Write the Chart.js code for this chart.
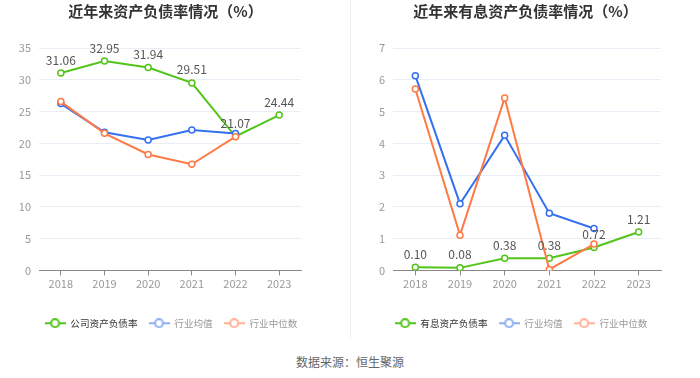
<!DOCTYPE html>
<html><head><meta charset="utf-8">
<script src="https://cdn.jsdelivr.net/npm/chart.js@4/dist/chart.umd.min.js"></script>
<style>
html,body{margin:0;padding:0;background:#fff;width:700px;height:378px;overflow:hidden;font-family:"Noto Sans CJK SC",sans-serif;position:relative;}
.box{position:absolute;top:0;width:350px;height:345px;}
#divider{position:absolute;left:350px;top:0;width:1px;height:338px;background:#f0f0f0;}
#src{position:absolute;left:0;width:700px;top:353px;text-align:center;font-size:12px;color:#666;}
</style></head><body>
<div class="box" style="left:0"><canvas id="c1" width="350" height="345"></canvas></div>
<div id="divider"></div>
<div class="box" style="left:350px"><canvas id="c2" width="350" height="345"></canvas></div>
<div id="src">数据来源：恒生聚源</div>
<script>
const years = ['2018','2019','2020','2021','2022','2023'];
const debtCompany = [31.06, 32.95, 31.94, 29.51, 21.07, 24.44];
const debtIndustryAvg = [26.25, 21.74, 20.52, 22.11, 21.53, null];
const debtIndustryMedian = [26.57, 21.58, 18.24, 16.70, 21.05, null];
const ibCompany = [0.10, 0.08, 0.38, 0.38, 0.72, 1.21];
const ibIndustryAvg = [6.13, 2.10, 4.25, 1.80, 1.32, null];
const ibIndustryMedian = [5.71, 1.11, 5.43, 0.03, 0.83, null];
const leftTitle = '近年来资产负债率情况（%）';
const rightTitle = '近年来有息资产负债率情况（%）';
const leftNames = ['公司资产负债率','行业均值','行业中位数'];
const rightNames = ['有息资产负债率','行业均值','行业中位数'];

const GREEN='#52c41a', BLUE='#3470ef', ORANGE='#ff7a45';
const LEG_COLORS=[GREEN,'#8eaef5','#ffb296'];
const LEG_TEXT=['#333','#999','#999'];
const FONT='"Noto Sans CJK SC", sans-serif';

function markerImg(color){
  const c=document.createElement('canvas');c.width=21;c.height=10;
  const x=c.getContext('2d');
  x.strokeStyle=color;x.lineWidth=2;
  x.beginPath();x.moveTo(0,5);x.lineTo(21,5);x.stroke();
  x.beginPath();x.arc(10.5,5,4,0,Math.PI*2);x.fillStyle='#fff';x.fill();x.stroke();
  return c;
}

const labelPlugin={
  id:'vlabels',
  afterDatasetsDraw(chart){
    const ctx=chart.ctx;const meta=chart.getDatasetMeta(0);
    const ds=chart.data.datasets[0];
    ctx.save();ctx.font='12px '+FONT;ctx.fillStyle='#555';ctx.textAlign='center';ctx.textBaseline='middle';
    meta.data.forEach((p,i)=>{ if(ds.data[i]==null)return; ctx.fillText(ds.data[i].toFixed(2),p.x,p.y-13);});
    ctx.restore();
  }
};
// re-centres the title and legend boxes horizontally
const centerPlugin={
  id:'recenter',
  afterLayout(chart,args,opts){
    const t=chart.titleBlock; if(t){t.left=opts.title-160;t.right=opts.title+160;}
    const l=chart.legend; if(l){const w=l.right-l.left; l.left=opts.legend-w/2; l.right=opts.legend+w/2;}
  }
};

function makeChart(id,title,names,d0,d1,d2,max,step,yWidth,padR,tc,lc){
  const mk=(label,data,color,order)=>({label,data,order,borderColor:color,backgroundColor:'#fff',borderWidth:2,
    pointRadius:3,pointHoverRadius:3,pointBorderWidth:1.5,pointBackgroundColor:'#fff',pointBorderColor:color,tension:0,spanGaps:false});
  return new Chart(document.getElementById(id),{
    type:'line',
    data:{labels:years,datasets:[mk(names[0],d0,GREEN,3),mk(names[1],d1,BLUE,2),mk(names[2],d2,ORANGE,1)]},
    options:{
      responsive:false,animation:false,devicePixelRatio:1,
      layout:{padding:{top:2,left:0,right:padR,bottom:7}},
      plugins:{
        tooltip:{enabled:false},
        recenter:{title:tc,legend:lc},
        title:{display:true,text:title,color:'#333',font:{family:FONT,size:15,weight:'bold'},padding:{top:0,bottom:28}},
        legend:{position:'bottom',
          labels:{usePointStyle:true,pointStyleWidth:21,boxHeight:10,padding:11,font:{family:FONT,size:9.6},
            generateLabels(chart){
              return chart.data.datasets.map((ds,i)=>({text:ds.label,pointStyle:markerImg(LEG_COLORS[i]),fontColor:LEG_TEXT[i],
                fillStyle:LEG_COLORS[i],strokeStyle:LEG_COLORS[i],lineWidth:0,hidden:false,datasetIndex:i}));
            }}}
      },
      scales:{
        x:{offset:true,grid:{drawOnChartArea:false,drawTicks:true,tickLength:5,color:'#888'},border:{color:'#888'},
          ticks:{color:'#999',font:{family:FONT,size:11},padding:2},
          afterFit(s){s.height=37;}},
        y:{min:0,max:max,ticks:{stepSize:step,color:'#999',font:{family:FONT,size:11},padding:8},
          grid:{color:'#e9edf5',drawTicks:false},border:{display:false},
          afterFit(s){s.width=yWidth;}}
      }
    },
    plugins:[labelPlugin,centerPlugin]
  });
}
makeChart('c1',leftTitle,leftNames,debtCompany,debtIndustryAvg,debtIndustryMedian,35,5,39,49,165.5,171);
makeChart('c2',rightTitle,rightNames,ibCompany,ibIndustryAvg,ibIndustryMedian,7,1,43,39,175.5,171);
</script>
</body></html>
